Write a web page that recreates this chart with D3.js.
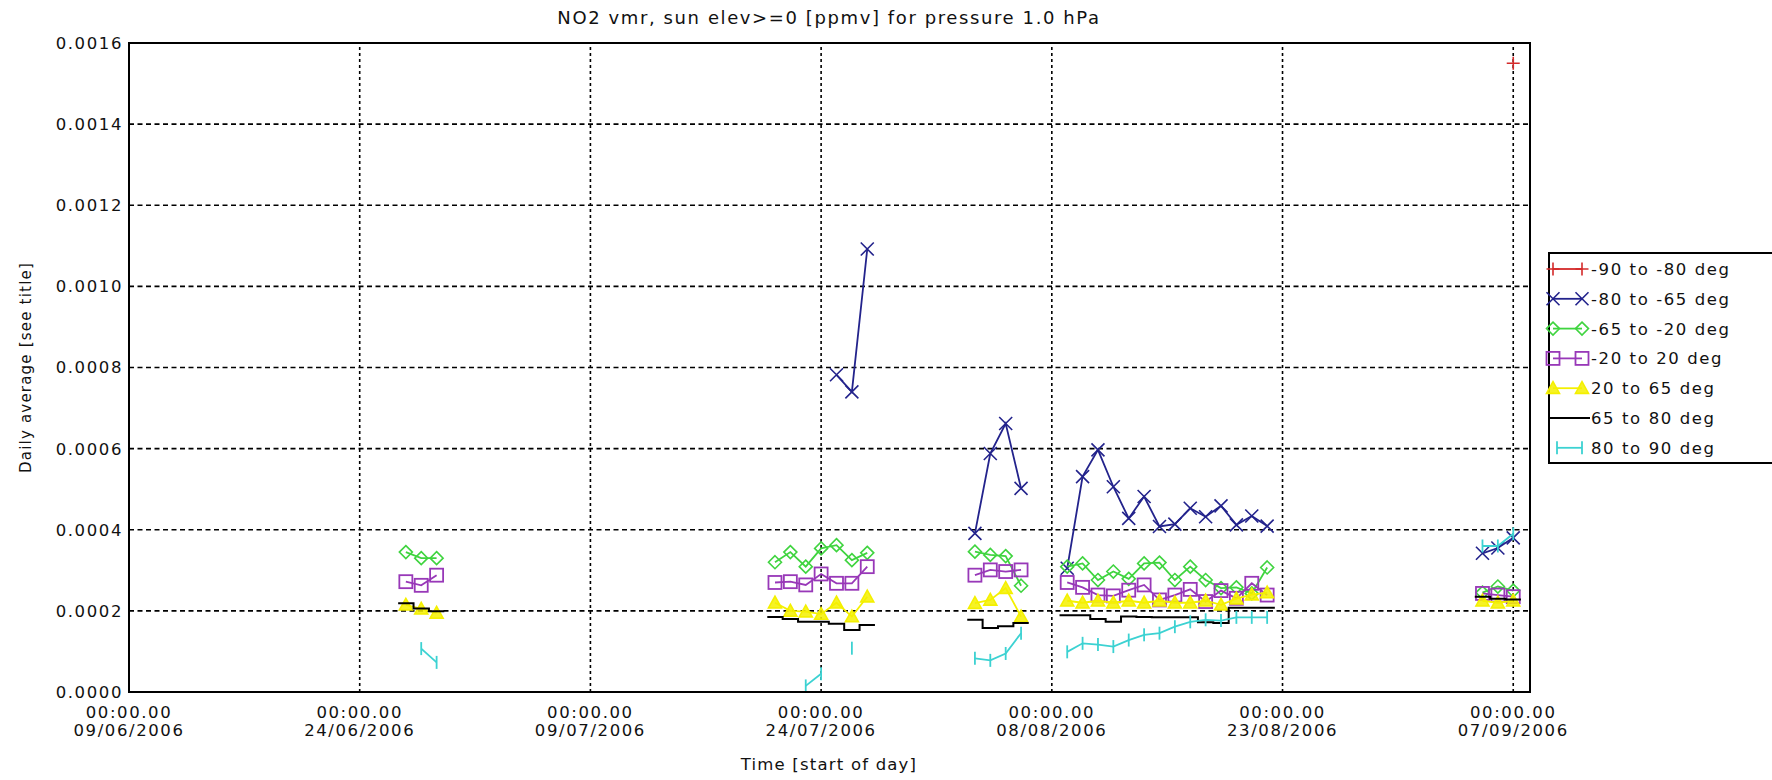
<!DOCTYPE html>
<html><head><meta charset="utf-8">
<script src="https://cdn.jsdelivr.net/npm/d3@7"></script>
<style>
html,body{margin:0;padding:0;background:#fff;}
svg{display:block;}
text{font-family:"DejaVu Sans",sans-serif;fill:#111;}
</style></head>
<body>
<svg id="chart" width="1772" height="780"></svg>
<script>
// ---------- data ----------
const titleText = "NO2 vmr, sun elev>=0 [ppmv] for pressure 1.0 hPa";
const xTitle = "Time [start of day]";
const yTitle = "Daily average [see title]";
const xTickDates = ["2006-06-09","2006-06-24","2006-07-09","2006-07-24","2006-08-08","2006-08-23","2006-09-07"];
const xTickLabels = ["09/06/2006","24/06/2006","09/07/2006","24/07/2006","08/08/2006","23/08/2006","07/09/2006"];
const yTicks = [0,0.0002,0.0004,0.0006,0.0008,0.0010,0.0012,0.0014,0.0016];
const seriesNames = ["-90 to -80 deg","-80 to -65 deg","-65 to -20 deg","-20 to 20 deg","20 to 65 deg","65 to 80 deg","80 to 90 deg"];
const seriesColors = ["#d42a2a","#23238c","#3fd43f","#9838b8","#f4f000","#000000","#3cd2d2"];
const seriesSymbols = ["plus","x","diamond","square","triangle","hist","bar"];

// each run = consecutive daily values (ppmv) starting at a date
const band_m90_m80 = [
  {start:"2006-09-07", v:[15.5e-4]}
];
const band_m80_m65 = [
  {start:"2006-07-25", v:[7.82e-4,7.40e-4,10.92e-4]},
  {start:"2006-08-03", v:[3.91e-4,5.88e-4,6.62e-4,5.02e-4]},
  {start:"2006-08-09", v:[3.05e-4,5.31e-4,5.97e-4,5.06e-4,4.28e-4,4.82e-4,4.08e-4,4.14e-4,4.53e-4,4.32e-4,4.59e-4,4.12e-4,4.34e-4,4.09e-4]},
  {start:"2006-09-05", v:[3.42e-4,3.55e-4,3.80e-4]}
];
const band_m65_m20 = [
  {start:"2006-06-27", v:[3.45e-4,3.30e-4,3.30e-4]},
  {start:"2006-07-21", v:[3.20e-4,3.45e-4,3.09e-4,3.54e-4,3.62e-4,3.25e-4,3.43e-4]},
  {start:"2006-08-03", v:[3.46e-4,3.38e-4,3.35e-4,2.62e-4]},
  {start:"2006-08-09", v:[3.09e-4,3.17e-4,2.76e-4,2.97e-4,2.79e-4,3.17e-4,3.19e-4,2.76e-4,3.09e-4,2.76e-4,2.56e-4,2.58e-4,2.43e-4,3.07e-4]},
  {start:"2006-09-05", v:[2.45e-4,2.60e-4,2.50e-4]}
];
const band_m20_20 = [
  {start:"2006-06-27", v:[2.72e-4,2.63e-4,2.88e-4]},
  {start:"2006-07-21", v:[2.70e-4,2.72e-4,2.64e-4,2.91e-4,2.68e-4,2.68e-4,3.09e-4]},
  {start:"2006-08-03", v:[2.88e-4,3.01e-4,2.97e-4,3.01e-4]},
  {start:"2006-08-09", v:[2.70e-4,2.58e-4,2.39e-4,2.37e-4,2.51e-4,2.64e-4,2.27e-4,2.39e-4,2.53e-4,2.23e-4,2.50e-4,2.31e-4,2.68e-4,2.39e-4]},
  {start:"2006-09-05", v:[2.43e-4,2.39e-4,2.35e-4]}
];
const band_20_65 = [
  {start:"2006-06-27", v:[2.15e-4,2.05e-4,1.95e-4]},
  {start:"2006-07-21", v:[2.20e-4,2.00e-4,1.98e-4,1.92e-4,2.20e-4,1.86e-4,2.35e-4]},
  {start:"2006-08-03", v:[2.19e-4,2.27e-4,2.56e-4,1.86e-4]},
  {start:"2006-08-09", v:[2.25e-4,2.20e-4,2.25e-4,2.20e-4,2.25e-4,2.20e-4,2.25e-4,2.20e-4,2.20e-4,2.25e-4,2.15e-4,2.30e-4,2.40e-4,2.45e-4]},
  {start:"2006-09-05", v:[2.25e-4,2.20e-4,2.25e-4]}
];
const band_65_80 = [
  {start:"2006-06-27", v:[2.19e-4,2.06e-4,1.99e-4]},
  {start:"2006-07-21", v:[1.85e-4,1.80e-4,1.73e-4,1.73e-4,1.68e-4,1.53e-4,1.65e-4]},
  {start:"2006-08-03", v:[1.78e-4,1.58e-4,1.62e-4,1.70e-4]},
  {start:"2006-08-09", v:[1.89e-4,1.89e-4,1.80e-4,1.73e-4,1.86e-4,1.85e-4,1.84e-4,1.84e-4,1.84e-4,1.72e-4,1.70e-4,2.08e-4,2.08e-4,2.08e-4]},
  {start:"2006-09-05", v:[2.35e-4,2.30e-4,2.28e-4]}
];
const band_80_90 = [
  {start:"2006-06-28", v:[1.07e-4,0.73e-4]},
  {start:"2006-07-23", v:[0.15e-4,0.45e-4]},
  {start:"2006-07-26", v:[1.08e-4]},
  {start:"2006-08-03", v:[0.83e-4,0.78e-4,0.95e-4,1.45e-4]},
  {start:"2006-08-09", v:[0.99e-4,1.20e-4,1.17e-4,1.12e-4,1.28e-4,1.41e-4,1.45e-4,1.61e-4,1.73e-4,1.78e-4,1.76e-4,1.84e-4,1.84e-4,1.84e-4]},
  {start:"2006-09-05", v:[3.60e-4,3.60e-4,3.90e-4]}
];
const allBands = [band_m90_m80,band_m80_m65,band_m65_m20,band_m20_20,band_20_65,band_65_80,band_80_90];

// ---------- chart ----------
const DAY = 86400000;
const parse = s => new Date(s + "T00:00:00Z");
const svg = d3.select("#chart");
const x = d3.scaleUtc()
  .domain([parse("2006-06-09"), new Date(parse("2006-09-08").getTime() + DAY*0.09)])
  .range([129, 1530]);
const y = d3.scaleLinear().domain([0, 0.0016]).range([692, 43]);

const FONT = 16.5, LS = 1.6;

// grid
const grid = svg.append("g");
grid.selectAll("line.h").data(yTicks.slice(1, -1)).join("line")
  .attr("x1", x.range()[0]).attr("x2", x.range()[1])
  .attr("y1", d => y(d)).attr("y2", d => y(d))
  .attr("stroke", "#000").attr("stroke-width", 1.6).attr("stroke-dasharray", "5,3.5");
grid.selectAll("line.v").data(xTickDates.slice(1)).join("line")
  .attr("x1", d => x(parse(d))).attr("x2", d => x(parse(d)))
  .attr("y1", y.range()[0]).attr("y2", y.range()[1])
  .attr("stroke", "#000").attr("stroke-width", 1.6).attr("stroke-dasharray", "3,3");

// y axis labels
svg.append("g").selectAll("text").data(yTicks).join("text")
  .attr("x", 123).attr("y", d => y(d)).attr("dy", "0.36em")
  .attr("text-anchor", "end").attr("font-size", FONT).attr("letter-spacing", LS)
  .text(d => d3.format(".4f")(d));

// x axis labels
const xl = svg.append("g").selectAll("g").data(xTickDates).join("g")
  .attr("transform", d => `translate(${x(parse(d))},0)`);
xl.append("text").attr("y", 718).attr("text-anchor", "middle")
  .attr("font-size", FONT).attr("letter-spacing", LS).text("00:00.00");
xl.append("text").attr("y", 736).attr("text-anchor", "middle")
  .attr("font-size", FONT).attr("letter-spacing", LS).text((d, i) => xTickLabels[i]);

// titles
svg.append("text").attr("x", 829).attr("y", 24).attr("text-anchor", "middle")
  .attr("font-size", 18).attr("letter-spacing", 1.6).text(titleText);
svg.append("text").attr("x", 829).attr("y", 770).attr("text-anchor", "middle")
  .attr("font-size", FONT).attr("letter-spacing", 1.2).text(xTitle);
svg.append("text").attr("transform", `translate(31,${(y.range()[0]+y.range()[1])/2}) rotate(-90)`)
  .attr("text-anchor", "middle").attr("font-size", 15).attr("letter-spacing", 1.2).text(yTitle);

// symbols
function drawSymbol(g, type, cx, cy, color) {
  const s = 6.5;
  if (type === "plus") {
    g.append("path").attr("d", `M${cx-s},${cy}H${cx+s}M${cx},${cy-s}V${cy+s}`)
      .attr("stroke", color).attr("stroke-width", 1.6).attr("fill", "none");
  } else if (type === "x") {
    g.append("path").attr("d", `M${cx-s},${cy-s}L${cx+s},${cy+s}M${cx-s},${cy+s}L${cx+s},${cy-s}`)
      .attr("stroke", color).attr("stroke-width", 1.6).attr("fill", "none");
  } else if (type === "diamond") {
    g.append("path").attr("d", `M${cx},${cy-s}L${cx+s},${cy}L${cx},${cy+s}L${cx-s},${cy}Z`)
      .attr("stroke", color).attr("stroke-width", 1.6).attr("fill", "none");
  } else if (type === "square") {
    g.append("rect").attr("x", cx-s).attr("y", cy-s).attr("width", 2*s).attr("height", 2*s)
      .attr("stroke", color).attr("stroke-width", 1.8).attr("fill", "none");
  } else if (type === "triangle") {
    g.append("path").attr("d", `M${cx},${cy-s}L${cx+s},${cy+s*0.8}L${cx-s},${cy+s*0.8}Z`)
      .attr("stroke", color).attr("stroke-width", 1.6).attr("fill", color).attr("fill-opacity", 0.85);
  } else if (type === "bar") {
    g.append("path").attr("d", `M${cx},${cy-s}V${cy+s}`)
      .attr("stroke", color).attr("stroke-width", 1.8).attr("fill", "none");
  }
}

const line = d3.line().x(d => x(d.date)).y(d => y(d.value));
const plot = svg.append("g");
allBands.forEach((band, si) => {
  const color = seriesColors[si], sym = seriesSymbols[si];
  const g = plot.append("g");
  band.forEach(run => {
    const t0 = parse(run.start).getTime();
    const pts = run.v.map((v, i) => ({date: new Date(t0 + i*DAY), value: v}));
    if (sym === "hist") {
      const hp = [];
      pts.forEach(p => {
        hp.push({date: new Date(p.date.getTime() - DAY/2), value: p.value});
        hp.push({date: new Date(p.date.getTime() + DAY/2), value: p.value});
      });
      g.append("path").attr("d", line(hp)).attr("fill", "none")
        .attr("stroke", color).attr("stroke-width", 2);
    } else {
      if (pts.length > 1) {
        g.append("path").attr("d", line(pts)).attr("fill", "none")
          .attr("stroke", color).attr("stroke-width", 1.8);
      }
      pts.forEach(p => drawSymbol(g, sym, x(p.date), y(p.value), color));
    }
  });
});

// frame
svg.append("rect").attr("x", x.range()[0]).attr("y", y.range()[1])
  .attr("width", x.range()[1]-x.range()[0]).attr("height", y.range()[0]-y.range()[1])
  .attr("fill", "none").attr("stroke", "#000").attr("stroke-width", 2);

// legend
const lg = svg.append("g");
lg.append("rect").attr("x", 1549).attr("y", 253).attr("width", 260).attr("height", 210)
  .attr("fill", "none").attr("stroke", "#000").attr("stroke-width", 2);
seriesNames.forEach((name, i) => {
  const ly = 269 + i*29.8;
  const color = seriesColors[i], sym = seriesSymbols[i];
  const x0 = sym === "bar" ? 1557 : 1553, x1 = sym === "hist" ? 1590 : 1582;
  lg.append("path").attr("d", `M${sym === "hist" ? 1549 : x0},${ly}H${x1}`)
    .attr("stroke", color).attr("stroke-width", 1.8);
  if (sym !== "hist") { drawSymbol(lg, sym, x0, ly, color); drawSymbol(lg, sym, x1, ly, color); }
  lg.append("text").attr("x", 1591).attr("y", ly).attr("dy", "0.36em")
    .attr("font-size", FONT).attr("letter-spacing", LS).text(name);
});
</script>
</body></html>
